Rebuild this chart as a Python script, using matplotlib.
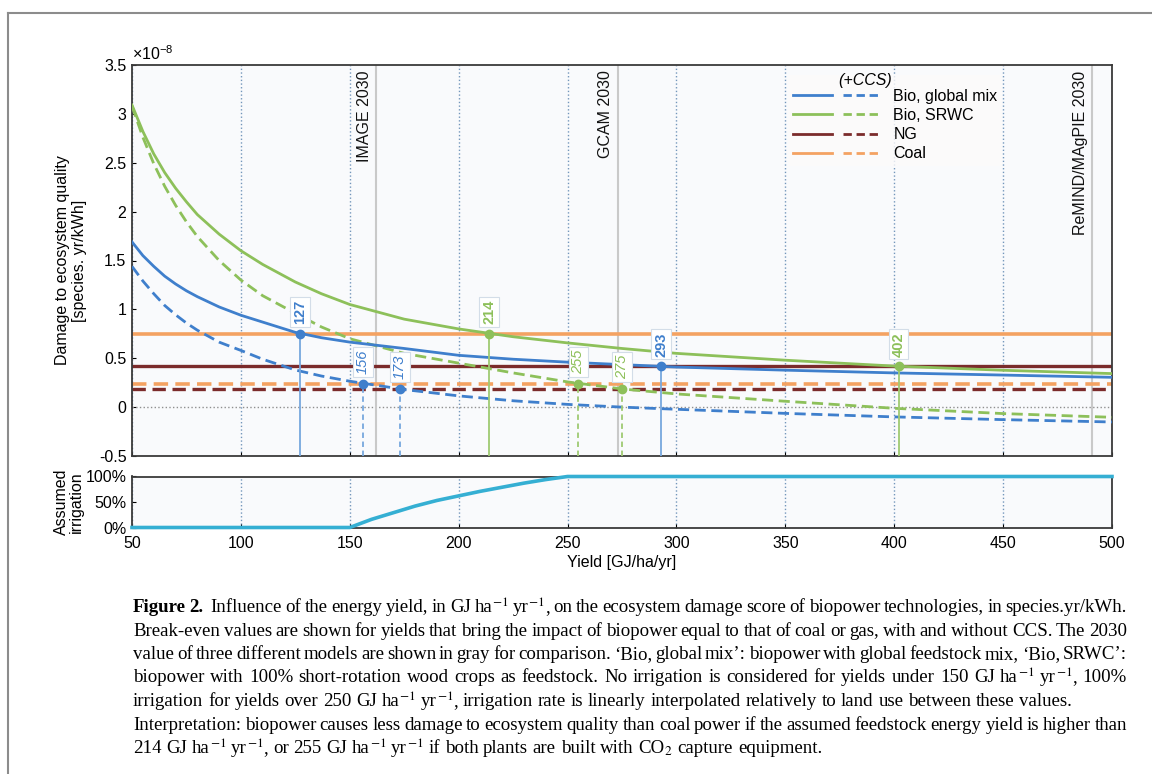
import re

import matplotlib
matplotlib.use("Agg")
import matplotlib.pyplot as plt
from matplotlib.lines import Line2D
from matplotlib.legend_handler import HandlerTuple

plt.rcParams["font.family"] = ["Liberation Sans", "DejaVu Sans"]
plt.rcParams["axes.unicode_minus"] = False
plt.rcParams["mathtext.fontset"] = "custom"
plt.rcParams["mathtext.rm"] = "Liberation Sans"
plt.rcParams["mathtext.it"] = "Liberation Sans:italic"

W, H = 1152, 774

# yield grid [GJ/ha/yr] and damage scores [1e-8 species.yr/kWh]
YIELD = [50, 55, 60, 65, 70, 75, 80, 90, 100, 110, 125, 137, 150, 175, 200, 225, 250, 275, 300,
         350, 400, 450, 500]
BIO_MIX = [1.69, 1.55, 1.44, 1.34, 1.26, 1.19, 1.13, 1.025, 0.94, 0.87, 0.765, 0.71, 0.665, 0.60,
           0.53, 0.49, 0.46, 0.435, 0.41, 0.378, 0.35, 0.328, 0.305]
BIO_MIX_CCS = [1.44, 1.29, 1.16, 1.04, 0.945, 0.86, 0.787, 0.665, 0.58, 0.49, 0.38, 0.318, 0.265,
               0.18, 0.115, 0.065, 0.028, 0.0, -0.022, -0.064, -0.10, -0.128, -0.152]
BIO_SRWC = [3.09, 2.82, 2.59, 2.40, 2.24, 2.10, 1.97, 1.77, 1.60, 1.46, 1.28, 1.16, 1.05, 0.90,
            0.80, 0.72, 0.657, 0.60, 0.55, 0.48, 0.42, 0.377, 0.343]
BIO_SRWC_CCS = [3.08, 2.76, 2.49, 2.26, 2.065, 1.895, 1.745, 1.50, 1.30, 1.14, 0.96, 0.82, 0.70,
                0.55, 0.45, 0.35, 0.258, 0.186, 0.135, 0.06, -0.012, -0.066, -0.104]

COAL = 0.752
COAL_CCS = 0.24
NG = 0.418
NG_CCS = 0.186

# break-even yields and the level they hit
BREAKEVEN_YIELD = [127, 293, 156, 173, 214, 402, 255, 275]
BREAKEVEN_LEVEL = [COAL, NG, COAL_CCS, NG_CCS, COAL, NG, COAL_CCS, NG_CCS]
BREAKEVEN_SERIES = ["mix", "mix", "mix", "mix", "srwc", "srwc", "srwc", "srwc"]
BREAKEVEN_CCS = [False, False, True, True, False, False, True, True]

MODEL_NAMES = ["IMAGE 2030", "GCAM 2030", "ReMIND/MAgPIE 2030"]
MODEL_YIELD = [162, 273, 491]

IRR_YIELD = [50, 150, 160, 170, 180, 190, 200, 210, 220, 230, 240, 250, 500]
IRRIGATION = [0, 0, 16, 29, 42, 53, 62, 71, 79, 87, 94, 100, 100]

LEGEND_LABELS = ["Bio, global mix", "Bio, SRWC", "NG", "Coal"]

CAPTION = [
    (r"**Figure **2.  Influence of the energy yield, in GJ ha$^{-1}$ yr$^{-1}$, on the ecosystem "
     r"damage score of biopower technologies, in species.yr/kWh.", True),
    ("Break-even values are shown for yields that bring the impact of biopower equal to that of coal "
     "or gas, with and without CCS. The 2030", True),
    ("value of three different models are shown in gray for comparison. \u2018Bio, global mix\u2019: "
     "biopower with global feedstock mix, \u2018Bio, SRWC\u2019:", True),
    (r"biopower with 100% short-rotation wood crops as feedstock. No irrigation is considered for "
     r"yields under 150 GJ ha$^{-1}$ yr$^{-1}$, 100%", True),
    (r"irrigation for yields over 250 GJ ha$^{-1}$ yr$^{-1}$, irrigation rate is linearly interpolated "
     r"relatively to land use between these values.", False),
    ("Interpretation: biopower causes less damage to ecosystem quality than coal power if the assumed "
     "feedstock energy yield is higher than", True),
    (r"214 GJ ha$^{-1}$ yr$^{-1}$, or 255 GJ ha$^{-1}$ yr$^{-1}$ if both plants are built with "
     r"CO$_2$ capture equipment.", False),
]

BLUE = "#3f7fcc"
BLUE_LIGHT = "#77a7de"
GREEN = "#8dc05a"
GREEN_LIGHT = "#9fca72"
NG_C = "#7b2b2b"
COAL_C = "#f4a262"
IRR_C = "#35afd3"
GRID_C = "#7396bb"
FS = 11.5

fig = plt.figure(figsize=(W / 100, H / 100), dpi=100)
ax = fig.add_axes([132 / W, 1 - 456 / H, 980 / W, 391 / H])
ax2 = fig.add_axes([132 / W, 1 - 527.5 / H, 980 / W, 51 / H], sharex=ax)

for a in (ax, ax2):
    a.set_facecolor("#f9fafc")
    a.grid(axis="x", ls=":", color=GRID_C, lw=1)
    a.set_axisbelow(True)
    for s in a.spines.values():
        s.set_color("#3a3a3a")
        s.set_linewidth(1.3)
    a.tick_params(direction="in", length=3, labelsize=FS, pad=4)

# main panel
ax.axhline(0, ls=":", color="#8f8f8f", lw=1, zorder=1)
for name, yv in zip(MODEL_NAMES, MODEL_YIELD):
    ax.axvline(yv, color="#c9c9c9", lw=1.5, zorder=1)
    ax.annotate(name, xy=(yv, 3.5), xytext=(-3, -4), textcoords="offset points",
                rotation=90, ha="right", va="top", fontsize=FS, color="#111111")

dash = (0, (4, 2))
ax.axhline(COAL, color=COAL_C, lw=2.6, zorder=2)
ax.axhline(NG, color=NG_C, lw=2.4, zorder=2)
ax.axhline(COAL_CCS, color=COAL_C, lw=2.6, ls=dash, zorder=2)
ax.axhline(NG_CCS, color=NG_C, lw=2.4, ls=dash, zorder=2)

ax.plot(YIELD, BIO_SRWC, color=GREEN, lw=2, zorder=3)
ax.plot(YIELD, BIO_SRWC_CCS, color=GREEN, lw=2, ls=dash, zorder=3)
ax.plot(YIELD, BIO_MIX, color=BLUE, lw=2, zorder=3)
ax.plot(YIELD, BIO_MIX_CCS, color=BLUE, lw=2, ls=dash, zorder=3)

for xv, lv, ser, ccs in zip(BREAKEVEN_YIELD, BREAKEVEN_LEVEL, BREAKEVEN_SERIES, BREAKEVEN_CCS):
    col = BLUE if ser == "mix" else GREEN
    light = BLUE_LIGHT if ser == "mix" else GREEN_LIGHT
    ax.plot([xv, xv], [-0.5, lv], color=light, lw=1.3, ls=(0, (3, 2)) if ccs else "-", zorder=3)
    ax.plot([xv], [lv], "o", color=col, ms=6, zorder=5)
    ax.annotate(str(xv), xy=(xv, lv), xytext=(0, 7), textcoords="offset points",
                rotation=90, ha="center", va="bottom", fontsize=10.5, color=col,
                fontweight="normal" if ccs else "bold", fontstyle="italic" if ccs else "normal",
                bbox=dict(boxstyle="square,pad=0.2", fc="white", ec="#d3dde8", lw=0.8), zorder=6)

ax.set_xlim(50, 500)
ax.set_ylim(-0.5, 3.5)
ax.set_yticks([-0.5, 0, 0.5, 1, 1.5, 2, 2.5, 3, 3.5])
ax.set_yticklabels(["%g" % v for v in ax.get_yticks()])
ax.tick_params(axis="x", labelbottom=False)
ax.text(0.0, 1.004, r"$\times10^{-8}$", transform=ax.transAxes, ha="left", va="bottom", fontsize=FS)
ax.set_ylabel("Damage to ecosystem quality\n[species. yr/kWh]", fontsize=FS, linespacing=1.2)
ax.yaxis.set_label_coords(-0.046, 0.5)

handles = []
for c in (BLUE, GREEN, NG_C, COAL_C):
    handles.append((Line2D([], [], color=c, lw=2), Line2D([], [], color=c, lw=2, ls=(0, (3, 1.7)))))
leg = ax.legend(handles, LEGEND_LABELS, handler_map={tuple: HandlerTuple(ndivide=None, pad=0.7)},
                loc="upper left", bbox_to_anchor=((780 - 132) / 980, (456 - 67) / 391),
                handlelength=5.6, handletextpad=0.7, labelspacing=0.26, borderpad=0.3,
                fontsize=FS, title=" ", title_fontsize=4, frameon=True, fancybox=False)
leg.get_frame().set_facecolor("#fcfafa")
leg.get_frame().set_edgecolor("none")
leg.set_zorder(7)
ax.text((865 - 132) / 980, (456 - 80) / 391, "(+CCS)", transform=ax.transAxes, ha="center",
        va="center", fontsize=FS, fontstyle="italic", zorder=8)

# irrigation panel
ax2.plot(IRR_YIELD, IRRIGATION, color=IRR_C, lw=2.6, clip_on=False, zorder=3)
ax2.set_ylim(0, 100)
ax2.set_yticks([0, 50, 100])
ax2.set_yticklabels(["0%", "50%", "100%"])
ax2.set_xticks(range(50, 501, 50))
ax2.tick_params(axis="x", pad=6)
ax2.set_ylabel("Assumed\nirrigation", fontsize=FS, linespacing=1.0)
ax2.yaxis.set_label_coords(-0.049, 0.5)
ax2.set_xlabel("Yield [GJ/ha/yr]", fontsize=FS, labelpad=3)

# outer frame of the figure box
fig.add_artist(Line2D([8 / W, 1], [1 - 13 / H, 1 - 13 / H], transform=fig.transFigure,
                      color="#8c8c8c", lw=1.5))
fig.add_artist(Line2D([8 / W, 8 / W], [0, 1 - 13 / H], transform=fig.transFigure,
                      color="#8c8c8c", lw=1.5))

# caption, justified line by line
renderer = fig.canvas.get_renderer()
cap_kw = dict(fontsize=13.6, family="Liberation Serif", math_fontfamily="stix", va="baseline")


def make_word(word, yf):
    bold = word.startswith("**")
    parts = [p for p in re.split(r"(\$[^$]*\$)", word.replace("**", "")) if p]
    arts = [fig.text(0, yf, p, fontweight="bold" if bold else "normal", **cap_kw) for p in parts]
    widths = [t.get_window_extent(renderer).width for t in arts]
    return arts, widths


probe1 = fig.text(0, 0, "a a", **cap_kw)
probe2 = fig.text(0, 0, "aa", **cap_kw)
space_w = probe1.get_window_extent(renderer).width - probe2.get_window_extent(renderer).width
probe1.remove()
probe2.remove()

left, right = 133, 1127
for i, (line, justify) in enumerate(CAPTION):
    yf = 1 - (612 + i * 23.5) / H
    words = [make_word(w, yf) for w in line.split(" ")]
    total = sum(sum(ws) for _, ws in words)
    gap = (right - left - total) / (len(words) - 1) if justify else space_w
    x = left
    for arts, ws in words:
        for t, wd in zip(arts, ws):
            t.set_x(x / W)
            x += wd
        x += gap

fig.savefig("out.png", dpi=100, facecolor="white")
